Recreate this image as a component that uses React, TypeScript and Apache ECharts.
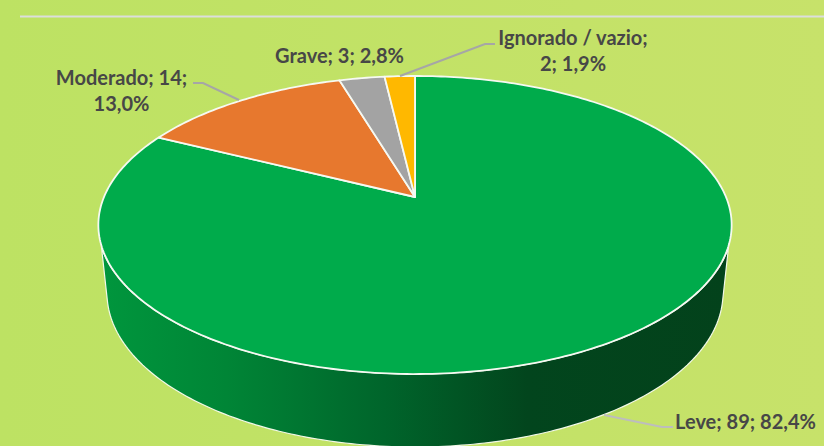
import React, { useEffect, useRef } from "react";
import * as echarts from "echarts";

const categories = ["Leve", "Moderado", "Grave", "Ignorado / vazio"];
const values = [89, 14, 3, 2];
const labelTexts = ["Leve; 89; 82,4%", "Moderado; 14;\n13,0%", "Grave; 3; 2,8%", "Ignorado / vazio;\n2; 1,9%"];
const colors = ["#00AB4B", "#E7782E", "#A3A3A3", "#FFB800"];

// Perspective view of the pie's top disc
const CX = 415, CY = 197, RX = 311, RY = 143.75, K = 0.188;
const total = values.reduce((a, b) => a + b, 0);
const project = (a: number): number[] => {
  const X = Math.sin(a), Y = Math.cos(a), w = 1 + K * Y;
  return [CX + (RX * X) / w, CY - (RY * Y) / w];
};
const ellipseArc = (cx: number, cy: number, rx: number, ry: number, t0: number, t1: number, n = 160): number[][] => {
  const pts: number[][] = [];
  for (let i = 0; i <= n; i++) {
    const t = t0 + ((t1 - t0) * i) / n;
    pts.push([cx + rx * Math.cos(t), cy + ry * Math.sin(t)]);
  }
  return pts;
};

const leaders: Record<string, number[][]> = {
  Leve: [[673, 427], [662, 427], [604, 415]],
  Moderado: [[193, 83], [203, 83], [239, 100]],
  "Ignorado / vazio": [[495, 44], [485, 44], [400, 76]],
};
const labelPos: Record<string, number[]> = {
  Leve: [745.5, 421],
  Moderado: [121.5, 90],
  Grave: [339.5, 55],
  "Ignorado / vazio": [573, 49.5],
};
const FONT = "Lato";

export default function App() {
  const ref = useRef<HTMLDivElement>(null);
  useEffect(() => {
    const chart = echarts.init(ref.current!, undefined, { renderer: "svg" });
    let acc = 0;
    const sliceData = categories.map((name, i) => {
      const start = acc / total;
      acc += values[i];
      return { name, value: [start, acc / total, values[i]] };
    });
    chart.setOption({
      animation: false,
      backgroundColor: {
        type: "linear", x: 0, y: 0, x2: 1, y2: 0,
        colorStops: [{ offset: 0, color: "#BDE263" }, { offset: 1, color: "#C7E26A" }],
      },
      graphic: [
        { type: "line", shape: { x1: 20, y1: 16.5, x2: 824, y2: 16.5 }, style: { stroke: "#DCDEDC", lineWidth: 2 } },
      ],
      series: [
        {
          type: "custom", name: "side", coordinateSystem: "none", z: 1, silent: true,
          data: [{ name: categories[0], value: [values[0]] }],
          renderItem: () => {
            const top = ellipseArc(415, 225, 317, 149, 0.148, Math.PI - 0.148);
            const bottom = ellipseArc(415, 293, 308, 154, Math.PI - 0.05, 0.05);
            return {
              type: "polygon",
              shape: { points: [...top, ...bottom] },
              style: {
                stroke: "#F2F8E8", lineWidth: 1.2,
                fill: {
                  type: "linear", x: 0, y: 0, x2: 1, y2: 0,
                  colorStops: [
                    { offset: 0, color: "#00963D" },
                    { offset: 0.2, color: "#008536" },
                    { offset: 0.45, color: "#00652B" },
                    { offset: 0.68, color: "#02451D" },
                    { offset: 1, color: "#03421B" },
                  ],
                },
              },
            };
          },
        },
        {
          type: "custom", name: "pie", coordinateSystem: "none", z: 2, silent: true,
          data: sliceData,
          renderItem: (_p: any, api: any) => {
            const a0 = api.value(0) * Math.PI * 2, a1 = api.value(1) * Math.PI * 2;
            const n = Math.max(4, Math.round((a1 - a0) * 60));
            const pts: number[][] = [[CX, CY]];
            for (let i = 0; i <= n; i++) pts.push(project(a0 + ((a1 - a0) * i) / n));
            return {
              type: "polygon",
              shape: { points: pts },
              style: { fill: colors[_p.dataIndex], stroke: "#F6F9F2", lineWidth: 1.8, lineJoin: "round" },
            };
          },
        },
        {
          type: "custom", name: "labels", coordinateSystem: "none", z: 3, silent: true,
          data: categories.map((name) => ({ name, value: [0] })),
          renderItem: (p: any) => {
            const name = categories[p.dataIndex];
            const children: any[] = [];
            if (leaders[name]) {
              children.push({
                type: "polyline",
                shape: { points: leaders[name] },
                style: { stroke: name === "Leve" ? "#BDBDBD" : "#A6A6A6", lineWidth: 2, fill: "none" },
              });
            }
            children.push({
              type: "text",
              x: labelPos[name][0], y: labelPos[name][1],
              style: {
                text: labelTexts[p.dataIndex],
                fill: "#474747", fontFamily: FONT, fontWeight: 700, fontSize: 20, lineHeight: 26,
                align: "center", verticalAlign: "middle",
              },
            });
            return { type: "group", children };
          },
        },
      ],
    });
    return () => chart.dispose();
  }, []);
  return <div ref={ref} style={{ position: "absolute", left: 0, top: 0, width: 824, height: 446 }} />;
}
